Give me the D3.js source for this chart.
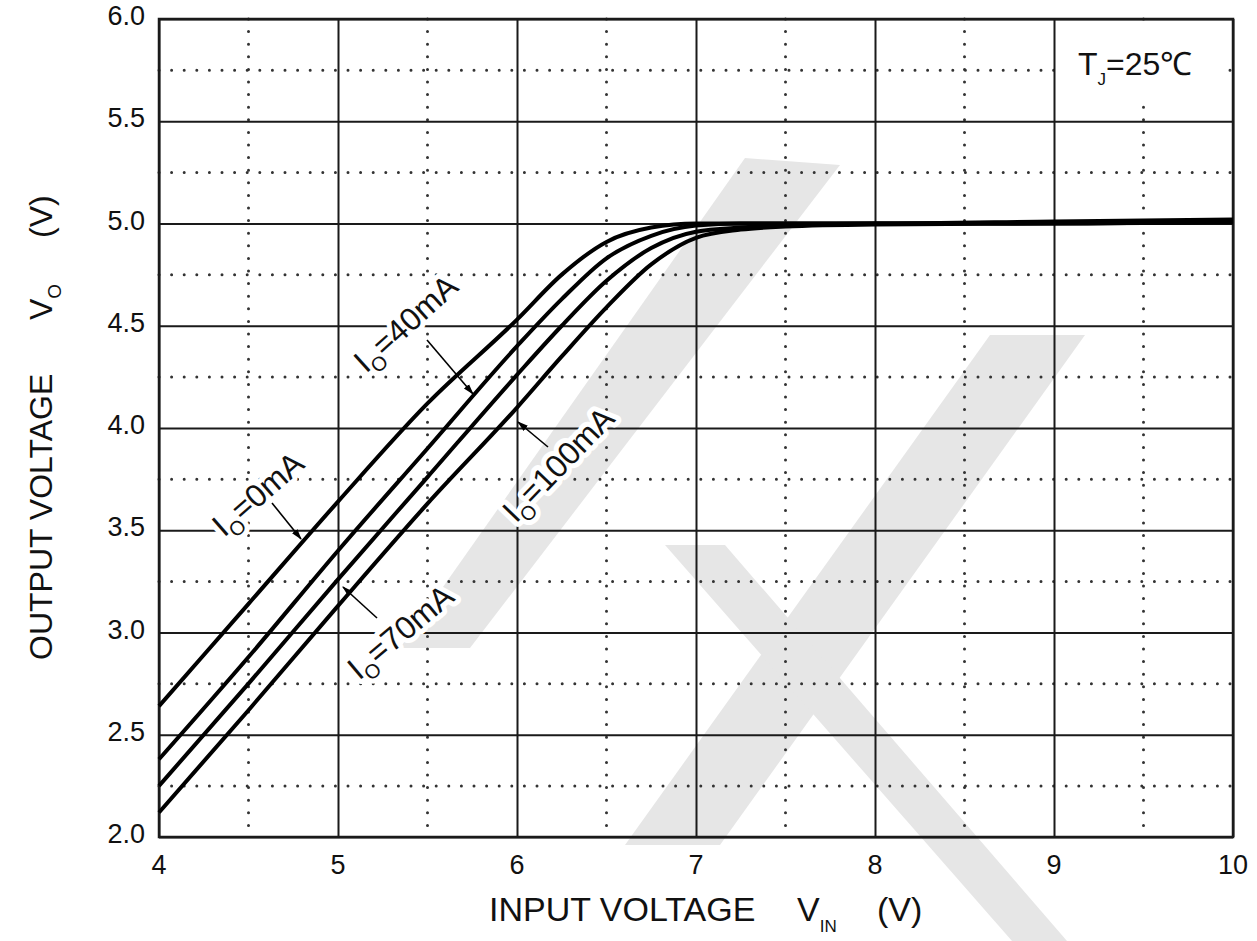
<!DOCTYPE html>
<html>
<head>
<meta charset="utf-8">
<script src="https://cdn.jsdelivr.net/npm/d3@7"></script>
<style>
  body { margin: 0; background: #fff; }
  svg { display: block; font-family: "Liberation Sans", Arial, sans-serif; }
</style>
</head>
<body>
<div id="chart"></div>
<script>
// Output voltage vs input voltage
const vin = [4, 4.5, 5, 5.5, 6, 6.25, 6.5, 6.75, 7, 7.25, 7.5, 8, 9, 10];
const vo0mA   = [2.64, 3.14, 3.64, 4.12, 4.53, 4.75, 4.91, 4.98, 5.00, 5.00, 5.00, 5.00, 5.01, 5.02];
const vo40mA  = [2.38, 2.88, 3.40, 3.90, 4.40, 4.63, 4.83, 4.94, 4.99, 5.00, 5.00, 5.00, 5.005, 5.015];
const vo70mA  = [2.25, 2.75, 3.26, 3.76, 4.26, 4.50, 4.72, 4.88, 4.96, 4.98, 4.99, 5.00, 5.00, 5.01];
const vo100mA = [2.12, 2.62, 3.13, 3.63, 4.10, 4.35, 4.59, 4.80, 4.93, 4.97, 4.985, 4.995, 5.00, 5.005];
const seriesNames = ['0mA', '40mA', '70mA', '100mA'];
const seriesValues = [vo0mA, vo40mA, vo70mA, vo100mA];

const xTicks = [4, 5, 6, 7, 8, 9, 10];
const yTicks = [2.0, 2.5, 3.0, 3.5, 4.0, 4.5, 5.0, 5.5, 6.0];

const width = 1257, height = 941;
const margin = { top: 19, right: 24, bottom: 104, left: 159 };

const svg = d3.select('#chart').append('svg')
  .attr('width', width)
  .attr('height', height);

// faint watermark behind the chart
const watermark = [
  [[745, 158], [840, 165], [470, 648], [400, 648]],
  [[990, 335], [1085, 335], [720, 845], [625, 845]],
  [[665, 545], [725, 545], [1067, 941], [1012, 941]]
];
svg.append('g').selectAll('path')
  .data(watermark)
  .join('path')
  .attr('d', d => 'M' + d.join('L') + 'Z')
  .attr('fill', '#e6e6e6');

const x = d3.scaleLinear().domain([4, 10]).range([margin.left, width - margin.right]);
const y = d3.scaleLinear().domain([2, 6]).range([height - margin.bottom, margin.top]);

const g = svg.append('g');

// dotted minor grid at half steps
const xMinor = d3.range(4.5, 10, 1);
const yMinor = d3.range(2.25, 6, 0.5);
g.append('g').selectAll('line')
  .data(xMinor)
  .join('line')
  .attr('x1', d => x(d)).attr('x2', d => x(d))
  .attr('y1', y(6)).attr('y2', y(2))
  .attr('stroke', '#333').attr('stroke-width', 3)
  .attr('stroke-linecap', 'round').attr('stroke-dasharray', '0 12.6');
g.append('g').selectAll('line')
  .data(yMinor)
  .join('line')
  .attr('x1', x(4)).attr('x2', x(10))
  .attr('y1', d => y(d)).attr('y2', d => y(d))
  .attr('stroke', '#333').attr('stroke-width', 3)
  .attr('stroke-linecap', 'round').attr('stroke-dasharray', '0 12.6');

// solid major grid through the axes
g.append('g')
  .attr('transform', `translate(0,${y(2)})`)
  .call(d3.axisBottom(x).tickValues(xTicks).tickSize(-(y(2) - y(6))).tickFormat(''))
  .call(a => a.select('.domain').remove())
  .call(a => a.selectAll('line').attr('stroke', '#1a1a1a').attr('stroke-width', 2));
g.append('g')
  .attr('transform', `translate(${x(4)},0)`)
  .call(d3.axisLeft(y).tickValues(yTicks).tickSize(-(x(10) - x(4))).tickFormat(''))
  .call(a => a.select('.domain').remove())
  .call(a => a.selectAll('line').attr('stroke', '#1a1a1a').attr('stroke-width', 2));

g.append('rect')
  .attr('x', x(4)).attr('y', y(6))
  .attr('width', x(10) - x(4)).attr('height', y(2) - y(6))
  .attr('fill', 'none').attr('stroke', '#1a1a1a').attr('stroke-width', 2.5);

// tick labels
g.append('g').selectAll('text')
  .data(xTicks)
  .join('text')
  .attr('x', d => x(d)).attr('y', y(2) + 37)
  .attr('text-anchor', 'middle')
  .attr('font-size', 27).attr('fill', '#111')
  .text(d => d);
g.append('g').selectAll('text')
  .data(yTicks)
  .join('text')
  .attr('x', x(4) - 14).attr('y', d => y(d) + 6)
  .attr('text-anchor', 'end')
  .attr('font-size', 27).attr('fill', '#111')
  .text(d => d.toFixed(1));

// curves
const line = d3.line()
  .x((d, i) => x(vin[i]))
  .y(d => y(d))
  .curve(d3.curveMonotoneX);
g.append('g').selectAll('path')
  .data(seriesValues)
  .join('path')
  .attr('d', line)
  .attr('fill', 'none')
  .attr('stroke', '#000')
  .attr('stroke-width', 4)
  .attr('stroke-linejoin', 'round');

// curve labels with pointer arrows
svg.append('defs').append('marker')
  .attr('id', 'arr')
  .attr('viewBox', '0 0 10 10')
  .attr('refX', 9).attr('refY', 5)
  .attr('markerWidth', 7).attr('markerHeight', 7)
  .attr('orient', 'auto')
  .append('path').attr('d', 'M0,2L10,5L0,8Z').attr('fill', '#000');

const labels = [
  { name: seriesNames[0], at: [224, 538], rot: -41, from: [272, 503], to: [301, 539] },
  { name: seriesNames[1], at: [366, 374], rot: -42, from: [427, 340], to: [473, 394] },
  { name: seriesNames[2], at: [359, 681], rot: -40, from: [377, 618], to: [343, 587] },
  { name: seriesNames[3], at: [516, 524], rot: -46, from: [548, 447], to: [518, 422] }
];
const lab = g.append('g');
lab.selectAll('line')
  .data(labels)
  .join('line')
  .attr('x1', d => d.from[0]).attr('y1', d => d.from[1])
  .attr('x2', d => d.to[0]).attr('y2', d => d.to[1])
  .attr('stroke', '#000').attr('stroke-width', 1.6)
  .attr('marker-end', 'url(#arr)');

function labelText(sel) {
  sel.attr('transform', d => `translate(${d.at[0]},${d.at[1]}) rotate(${d.rot})`)
    .attr('font-size', 32);
  sel.append('tspan').text('I');
  sel.append('tspan').attr('font-size', 20).attr('dy', 8).text('O');
  sel.append('tspan').attr('dy', -8).text(d => '=' + d.name);
}
// white halo first, then the text on top
lab.append('g').selectAll('text')
  .data(labels)
  .join('text')
  .call(labelText)
  .attr('fill', '#fff').attr('stroke', '#fff').attr('stroke-width', 10)
  .attr('stroke-linejoin', 'round');
lab.append('g').selectAll('text')
  .data(labels)
  .join('text')
  .call(labelText)
  .attr('fill', '#111');

// junction temperature note
g.append('rect')
  .attr('x', 1060).attr('y', 27).attr('width', 162).attr('height', 75)
  .attr('fill', '#fff');
const tj = g.append('text')
  .attr('x', 1078).attr('y', 75)
  .attr('font-size', 32).attr('fill', '#111');
tj.append('tspan').text('T');
tj.append('tspan').attr('font-size', 17).attr('dy', 10).text('J');
tj.append('tspan').attr('dy', -10).text('=25℃');

// axis titles
const xt = svg.append('text')
  .attr('y', 921).attr('font-size', 34).attr('fill', '#111');
xt.append('tspan').attr('x', 489).text('INPUT VOLTAGE');
xt.append('tspan').attr('x', 797).text('V');
xt.append('tspan').attr('font-size', 17).attr('dy', 11).text('IN');
xt.append('tspan').attr('x', 877).attr('dy', -11).text('(V)');

const yt = svg.append('text')
  .attr('transform', 'translate(52,0) rotate(-90)')
  .attr('font-size', 32).attr('fill', '#111');
yt.append('tspan').attr('x', -660).text('OUTPUT VOLTAGE');
yt.append('tspan').attr('x', -320).text('V');
yt.append('tspan').attr('font-size', 19).attr('dy', 9).text('O');
yt.append('tspan').attr('x', -238).attr('dy', -9).text('(V)');
</script>
</body>
</html>
